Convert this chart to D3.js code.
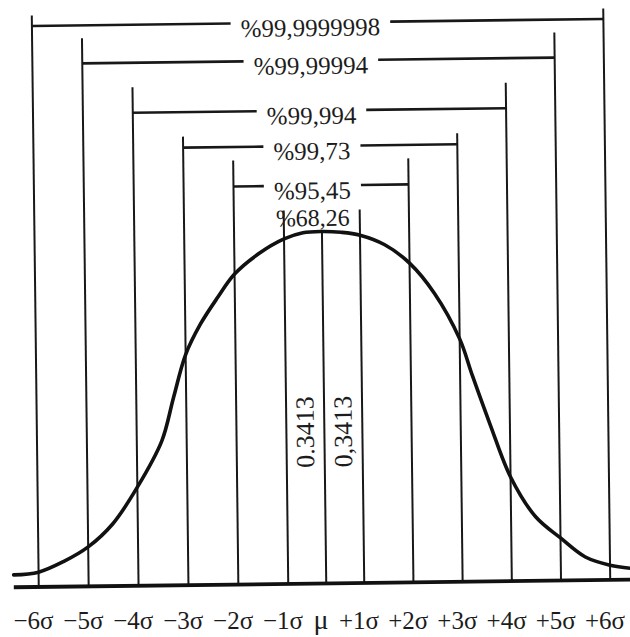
<!DOCTYPE html>
<html>
<head>
<meta charset="utf-8">
<script src="https://cdn.jsdelivr.net/npm/d3@7"></script>
<style>
  html, body { margin: 0; padding: 0; background: #ffffff; }
  svg { display: block; }
</style>
</head>
<body>
<svg id="chart" width="630" height="637"></svg>
<script>
// Guide lines, one per whole sigma step from the mean
const sigmaTicks = [-6, -5, -4, -3, -2, -1, 0, 1, 2, 3, 4, 5, 6];
const tickLabels = ["−6σ", "−5σ", "−4σ", "−3σ", "−2σ", "−1σ", "μ", "+1σ", "+2σ", "+3σ", "+4σ", "+5σ", "+6σ"];

// Coverage brackets: half-width in sigma and share of the area inside ±kσ
const bracketSigma = [1, 2, 3, 4, 5, 6];
const bracketLabels = ["%68,26", "%95,45", "%99,73", "%99,994", "%99,99994", "%99,9999998"];

// Area between the mean and one sigma on either side
const halfBandCenters = [-0.5, 0.5];
const halfBandLabels = ["0.3413", "0,3413"];

// Outline of the bell: position in sigma and relative height (peak = 1)
const curveSigma  = [-6.5, -6, -5.5, -5, -4.5, -4, -3.5, -3.25, -3, -2.7, -2.35, -2, -1.5, -1, -0.5, 0,
                     0.5, 1, 1.5, 2, 2.5, 3, 3.25, 3.6, 4, 4.5, 5, 5.5, 6, 6.45];
const curveHeight = [0.035, 0.042, 0.071, 0.112, 0.177, 0.28, 0.41, 0.535, 0.655, 0.74, 0.815, 0.882, 0.94, 0.98, 0.997, 1,
                     0.997, 0.988, 0.96, 0.907, 0.82, 0.69, 0.585, 0.445, 0.296, 0.182, 0.121, 0.066, 0.042, 0.032];

// ---- layout ----
const W = 630, H = 637;
const ink = "#181818";
const textInk = "#1c1c1c";
const serif = "'Liberation Serif', 'Times New Roman', 'DejaVu Serif', serif";

// The band around the mean is drawn narrower than the outer steps
const x = d3.scaleLinear().domain([-6, -1, 0, 1, 6]).range([35.5, 285, 323, 361, 607]);
const y = d3.scaleLinear().domain([0, 1]).range([583.5, 231.5]);
// Height of each bracket row
const levelY = d3.scaleLinear().domain([1, 2, 3, 4, 5, 6]).range([212.5, 185.5, 146, 110.5, 60.5, 22.5]);
// How far each pair of guide lines rises above its bracket
const rise = { 1: 2.5, 2: 26, 3: 11, 4: 25.5, 5: 25, 6: 10.5 };
const labelGap = 10;
const labelCenter = x(0) - 9;

const svg = d3.select("#chart");
svg.append("rect").attr("width", W).attr("height", H).attr("fill", "#ffffff");

// The drawing sits on the page with a slight tilt
const g = svg.append("g").attr("transform", "rotate(-0.7, 318, 318)");

// Vertical guide lines
g.append("g").selectAll("line")
  .data(sigmaTicks)
  .join("line")
  .attr("x1", d => x(d)).attr("x2", d => x(d))
  .attr("y1", d => d === 0 ? y(d3.max(curveHeight)) : levelY(Math.abs(d)) - rise[Math.abs(d)])
  .attr("y2", y(0))
  .attr("stroke", ink)
  .attr("stroke-width", 2);

// Bracket labels and their horizontal arms
const brackets = bracketSigma.map((k, i) => ({ k, label: bracketLabels[i] }));
const bg = g.append("g");
brackets.forEach(b => {
  const t = bg.append("text")
    .attr("x", labelCenter)
    .attr("y", levelY(b.k) + 13.5)
    .attr("text-anchor", "middle")
    .attr("font-family", serif)
    .attr("font-size", b.k === 1 ? 24 : 25)
    .attr("fill", textInk)
    .text(b.label);
  if (b.k === 1) return;
  const w = t.node().getComputedTextLength();
  const yy = levelY(b.k);
  bg.append("line")
    .attr("x1", x(-b.k)).attr("x2", labelCenter - w / 2 - labelGap)
    .attr("y1", yy).attr("y2", yy)
    .attr("stroke", ink).attr("stroke-width", 2.6);
  bg.append("line")
    .attr("x1", labelCenter + w / 2 + labelGap).attr("x2", x(b.k))
    .attr("y1", yy).attr("y2", yy)
    .attr("stroke", ink).attr("stroke-width", 2.6);
});

// Bell curve
const pts = curveSigma.map((s, i) => [s, curveHeight[i]]);
g.append("path")
  .datum(pts)
  .attr("fill", "none")
  .attr("stroke", "#111")
  .attr("stroke-width", 3.6)
  .attr("stroke-linecap", "round")
  .attr("d", d3.line().x(d => x(d[0])).y(d => y(d[1])).curve(d3.curveCatmullRom.alpha(0.5)));

// Baseline
g.append("line")
  .attr("x1", x(-6.5)).attr("x2", x(6.5))
  .attr("y1", y(0)).attr("y2", y(0))
  .attr("stroke", "#111")
  .attr("stroke-width", 3.8);

// Half-band areas, written upright
g.append("g").selectAll("text")
  .data(halfBandCenters.map((c, i) => ({ c, label: halfBandLabels[i] })))
  .join("text")
  .attr("transform", d => `translate(${x(d.c) + 8.5},432) rotate(-90)`)
  .attr("text-anchor", "middle")
  .attr("font-family", serif)
  .attr("font-size", 26)
  .attr("fill", textInk)
  .text(d => d.label);

// Sigma axis labels, set level under the tilted drawing
const axis = d3.axisBottom(x)
  .tickValues(sigmaTicks)
  .tickFormat((d, i) => tickLabels[i])
  .tickSize(0);
const ax = svg.append("g")
  .attr("transform", `translate(0,${y(0)})`)
  .call(axis);
ax.select(".domain").remove();
ax.selectAll(".tick text")
  .attr("y", 45.5)
  .attr("dy", 0)
  .attr("dx", -2.5)
  .attr("font-family", serif)
  .attr("font-size", d => d === 0 ? 28 : 25)
  .attr("fill", textInk);
</script>
</body>
</html>
